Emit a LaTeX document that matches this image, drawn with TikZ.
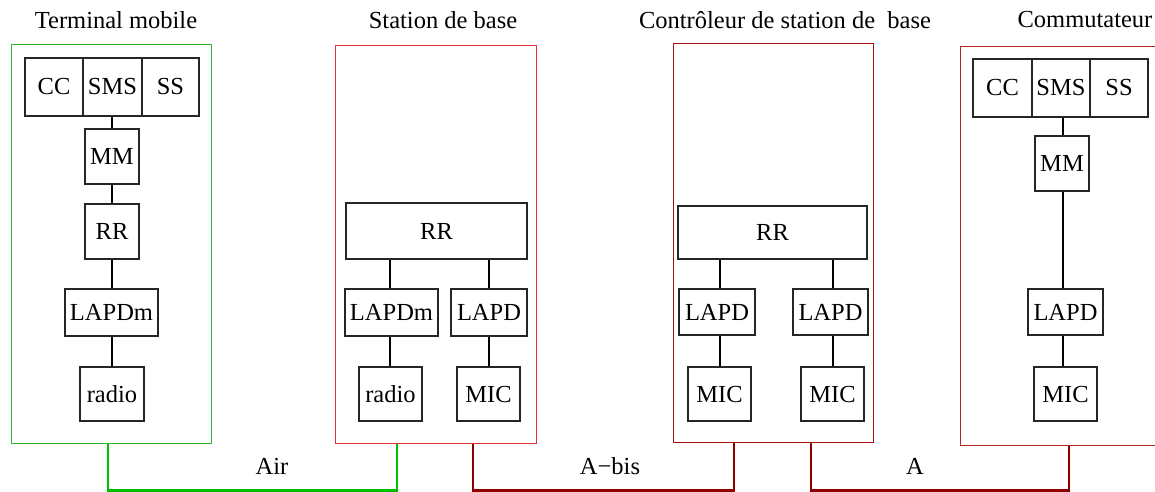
\documentclass[tikz,border=0pt]{standalone}
\usepackage{fontspec}
\setmainfont{Liberation Serif}
\usetikzlibrary{calc}
\definecolor{tmgreen}{RGB}{50,180,50}
\definecolor{airgreen}{RGB}{0,190,0}
\definecolor{bsred}{RGB}{228,50,50}
\definecolor{bscred}{RGB}{165,15,15}
\definecolor{mscred}{RGB}{180,40,40}
\definecolor{linkred}{RGB}{145,0,0}
\begin{document}
\begin{tikzpicture}[x=1pt,y=-1pt,
  font=\fontsize{24.5}{28}\selectfont,
  blk/.style={draw=black!85,line width=1.1pt,inner sep=0pt,anchor=center},
  outer/.style={draw,line width=1.3pt,inner sep=0pt,anchor=north west},
  conn/.style={draw=black,line width=2.3pt},
  link/.style={line width=2.7pt},
  title/.style={inner sep=0pt,anchor=center},
  lbl/.style={inner sep=0pt,anchor=center}]
\useasboundingbox (0,0) rectangle (1155,491);
% outer boxes
\node[outer,draw=tmgreen,minimum width=200pt,minimum height=399pt] (tm) at (11,44) {};
\node[outer,draw=bsred,minimum width=201pt,minimum height=398pt] (bs) at (335,45) {};
\node[outer,draw=bscred,minimum width=200pt,minimum height=399pt] (bsc) at (673,43) {};
\node[outer,draw=mscred,minimum width=210pt,minimum height=399pt] (msc) at (960,46) {};
% titles
\node[title] (ttm) at (116,20) {Terminal mobile};
\node[title] (tbs) at (443,20) {Station de base};
\node[title] (tbsc) at (785,20) {Contrôleur de station de \ base};
\node[title] (tmsc) at (1085,20) {Commutateur};
% Terminal mobile
\node[blk,minimum width=58pt,minimum height=58pt] (cc1) at (54,87) {CC};
\node[blk,minimum width=59pt,minimum height=58pt] (sms1) at (112.5,87) {SMS};
\node[blk,minimum width=57pt,minimum height=58pt] (ss1) at (170.5,87) {SS};
\node[blk,minimum width=54pt,minimum height=55pt] (mm1) at (112,156.5) {MM};
\node[blk,minimum width=54pt,minimum height=55pt] (rr1) at (112,231.5) {RR};
\node[blk,minimum width=93pt,minimum height=47pt] (lapdm1) at (111.5,312.5) {LAPDm};
\node[blk,minimum width=64pt,minimum height=54pt] (radio1) at (112,394) {radio};
\draw[conn] (mm1.north) -- (mm1.north |- sms1.south);
\draw[conn] (rr1.north) -- (rr1.north |- mm1.south);
\draw[conn] (rr1.south) -- (rr1.south |- lapdm1.north);
\draw[conn] (radio1.north) -- (radio1.north |- lapdm1.south);
% Station de base
\node[blk,minimum width=181pt,minimum height=56pt] (rr2) at (436.5,231) {RR};
\node[blk,minimum width=93pt,minimum height=47pt] (lapdm2) at (391.5,312.5) {LAPDm};
\node[blk,minimum width=76pt,minimum height=47pt] (lapd2) at (489,312.5) {LAPD};
\node[blk,minimum width=63pt,minimum height=54pt] (radio2) at (390.5,394) {radio};
\node[blk,minimum width=63pt,minimum height=54pt] (mic2) at (488.5,394) {MIC};
\draw[conn] (390,0 |- lapdm2.north) -- (390,0 |- rr2.south);
\draw[conn] (489,0 |- lapd2.north) -- (489,0 |- rr2.south);
\draw[conn] (390,0 |- radio2.north) -- (390,0 |- lapdm2.south);
\draw[conn] (489,0 |- mic2.north) -- (489,0 |- lapd2.south);
% Controleur
\node[blk,minimum width=189pt,minimum height=53pt] (rr3) at (772.5,232.5) {RR};
\node[blk,minimum width=76pt,minimum height=46pt] (lapd3a) at (717,312) {LAPD};
\node[blk,minimum width=75pt,minimum height=46pt] (lapd3b) at (830.5,312) {LAPD};
\node[blk,minimum width=63pt,minimum height=54pt] (mic3a) at (719.5,394) {MIC};
\node[blk,minimum width=63pt,minimum height=54pt] (mic3b) at (832.5,394) {MIC};
\draw[conn] (720,0 |- lapd3a.north) -- (720,0 |- rr3.south);
\draw[conn] (833,0 |- lapd3b.north) -- (833,0 |- rr3.south);
\draw[conn] (720,0 |- mic3a.north) -- (720,0 |- lapd3a.south);
\draw[conn] (833,0 |- mic3b.north) -- (833,0 |- lapd3b.south);
% Commutateur
\node[blk,minimum width=59pt,minimum height=58pt] (cc4) at (1002.5,88) {CC};
\node[blk,minimum width=58pt,minimum height=58pt] (sms4) at (1061,88) {SMS};
\node[blk,minimum width=58pt,minimum height=58pt] (ss4) at (1119,88) {SS};
\node[blk,minimum width=54pt,minimum height=55pt] (mm4) at (1062,163.5) {MM};
\node[blk,minimum width=75pt,minimum height=46pt] (lapd4) at (1065.5,312) {LAPD};
\node[blk,minimum width=63pt,minimum height=54pt] (mic4) at (1065.5,394) {MIC};
\draw[conn] (1063,0 |- mm4.north) -- (1063,0 |- sms4.south);
\draw[conn] (1063,0 |- lapd4.north) -- (1063,0 |- mm4.south);
\draw[conn] (1063,0 |- mic4.north) -- (1063,0 |- lapd4.south);
% links
\draw[link,draw=airgreen] ([xshift=97pt]tm.south west) -- ++(0,46) -| ([xshift=62pt]bs.south west);
\draw[link,draw=linkred] ([xshift=138pt]bs.south west) -- ++(0,46) -| ([xshift=61pt]bsc.south west);
\draw[link,draw=linkred] ([xshift=138pt]bsc.south west) -- ++(0,47) -| ([xshift=109pt]msc.south west);
\node[lbl] (air) at (272,466) {Air};
\node[lbl] (abis) at (610,466) {A−bis};
\node[lbl] (a) at (915,466) {A};
\end{tikzpicture}
\end{document}
